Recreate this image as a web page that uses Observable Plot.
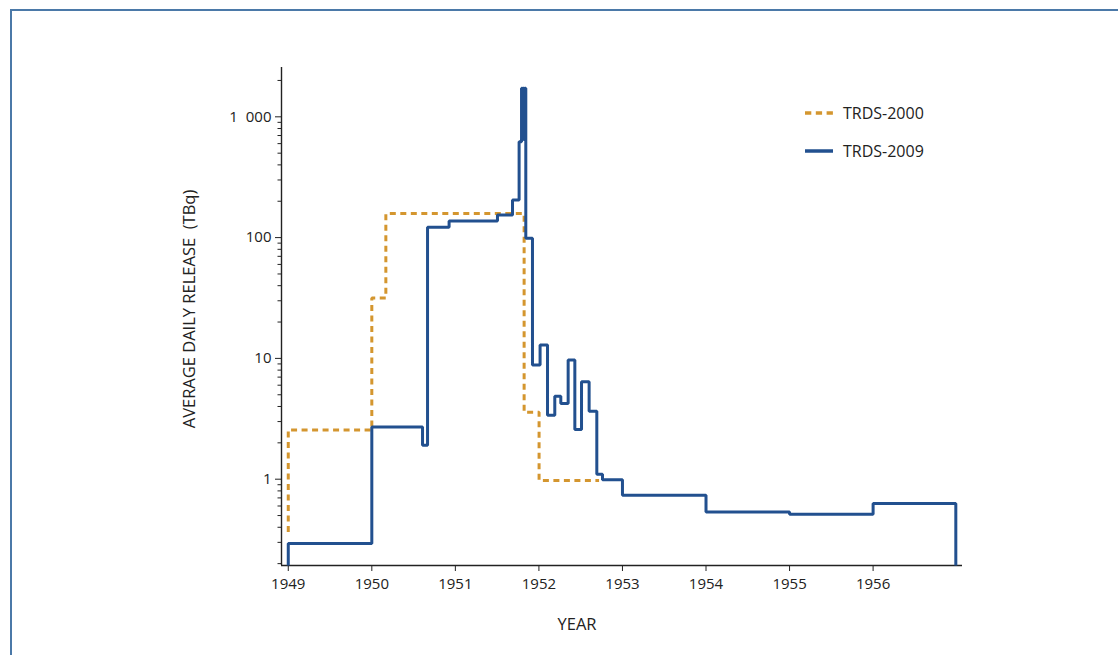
<!DOCTYPE html>
<html>
<head>
<meta charset="utf-8">
<script src="https://cdn.jsdelivr.net/npm/d3@7"></script>
<script src="https://cdn.jsdelivr.net/npm/@observablehq/plot@0.6"></script>
<style>
  html, body { margin: 0; padding: 0; background: #fff; }
  body { width: 1118px; height: 655px; overflow: hidden; position: relative; font-family: "Open Sans", sans-serif; color: #222; }
  #border { position: absolute; left: 10px; top: 9px; width: 1200px; height: 800px; border: 2px solid #4b79a8; box-sizing: border-box; }
  #chart { position: absolute; left: 0; top: 0; }
  #chart svg text { font-size: 15px !important; font-family: "Open Sans", sans-serif !important; fill: #222; word-spacing: 4px; }
  .lbl { position: absolute; font-size: 16.5px; white-space: pre; transform: translate(-50%, -50%); }
  .leg { position: absolute; display: flex; align-items: center; font-size: 16px; }
  .leg svg { margin-right: 10px; }
</style>
</head>
<body>
<div id="border"></div>
<div id="chart"></div>
<div class="lbl" id="ylab" style="left:188px; top:309px; transform: translate(-50%,-50%) rotate(-90deg);"></div>
<div class="lbl" id="xlab" style="left:577px; top:623px;"></div>
<div class="leg" id="leg1" style="left:805px; top:101px;"></div>
<div class="leg" id="leg2" style="left:805px; top:139px;"></div>
<script>
// ---- data ----
const seriesNames = ["TRDS-2000", "TRDS-2009"];
const seriesColors = ["#d4962f", "#22508f"];

// TRDS-2000 (dashed, step-after)
const orangeYears  = [1949.0, 1949.0, 1950.0, 1950.168, 1951.823, 1952.002, 1952.72];
const orangeValues = [0.365, 2.56, 31.6, 158, 3.58, 0.975, 0.975];

// TRDS-2009 (solid, step-after)
const blueYears  = [1949.0, 1949.0, 1950.0, 1950.607, 1950.667, 1950.925, 1951.504, 1951.684, 1951.763,
                    1951.792, 1951.803, 1951.812, 1951.822, 1951.831, 1951.843, 1951.923, 1952.014,
                    1952.103, 1952.190, 1952.262, 1952.350, 1952.430, 1952.510, 1952.601, 1952.693,
                    1952.761, 1953.0, 1954.0, 1955.0, 1956.0, 1956.99];
const blueValues = [0.193, 0.294, 2.71, 1.91, 122, 137, 154, 205, 623,
                    1720, 650, 1720, 650, 1720, 99, 8.8, 12.9,
                    3.39, 4.87, 4.24, 9.68, 2.58, 6.4, 3.66, 1.1,
                    0.99, 0.736, 0.536, 0.513, 0.63, 0.193];

const xTicks = [1949, 1950, 1951, 1952, 1953, 1954, 1955, 1956];
const yMajorTicks = [1, 10, 100, 1000];
const yMajorLabels = ["1", "10", "100", "1 000"];
const xDomain = [1948.919, 1957.07];
const yDomain = [0.193, 2560];
const xTitle = "YEAR";
const yTitle = "AVERAGE DAILY RELEASE  (TBq)";

// minor log ticks
const yMinorTicks = [];
for (const base of [0.1, 1, 10, 100, 1000]) {
  for (let k = 2; k <= 9; k++) {
    const v = +(k * base).toPrecision(3);
    if (v >= yDomain[0] && v <= yDomain[1]) yMinorTicks.push(v);
  }
}

const orange = orangeYears.map((x, i) => ({x, y: orangeValues[i]}));
const blue = blueYears.map((x, i) => ({x, y: blueValues[i]}));

const chart = Plot.plot({
  width: 1118,
  height: 655,
  marginLeft: 281,
  marginRight: 156,
  marginTop: 67,
  marginBottom: 90,
  style: { fontFamily: "Open Sans, sans-serif", fontSize: "15px", color: "#222", background: "transparent", overflow: "visible" },
  x: { domain: xDomain },
  y: { type: "log", domain: yDomain },
  marks: [
    Plot.axisX({ ticks: xTicks, tickSize: 6, tickPadding: 7, tickFormat: d => String(d), label: null, stroke: "#222", fontSize: 15 }),
    Plot.axisY({ ticks: yMajorTicks, tickSize: 6, tickPadding: 4, tickFormat: d => yMajorLabels[yMajorTicks.indexOf(d)], label: null, stroke: "#222", fontSize: 15 }),
    Plot.axisY({ ticks: yMinorTicks, tickSize: 3.5, tickFormat: () => "", label: null, stroke: "#222" }),
    Plot.ruleX([xDomain[0]], { stroke: "#222", strokeWidth: 1.4 }),
    Plot.ruleY([yDomain[0]], { stroke: "#222", strokeWidth: 1.4 }),
    Plot.line(orange, { x: "x", y: "y", curve: "step-after", stroke: seriesColors[0], strokeWidth: 3, strokeDasharray: "6,4.5", strokeLinejoin: "miter", strokeLinecap: "butt" }),
    Plot.line(blue, { x: "x", y: "y", curve: "step-after", stroke: seriesColors[1], strokeWidth: 3, strokeLinejoin: "miter", strokeLinecap: "butt" })
  ]
});
document.getElementById("chart").appendChild(chart);

document.getElementById("xlab").textContent = xTitle;
document.getElementById("ylab").textContent = yTitle;

function legendItem(id, name, color, dashed) {
  const el = document.getElementById(id);
  el.innerHTML = `<svg width="28" height="24"><line x1="0" x2="28" y1="12" y2="12" stroke="${color}" stroke-width="3.5" ${dashed ? 'stroke-dasharray="6.3,4.5"' : ''}/></svg><span>${name}</span>`;
}
legendItem("leg1", seriesNames[0], seriesColors[0], true);
legendItem("leg2", seriesNames[1], seriesColors[1], false);
</script>
</body>
</html>
